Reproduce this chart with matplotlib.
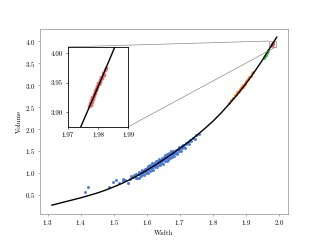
import matplotlib
matplotlib.use("Agg")
import matplotlib.pyplot as plt
from mpl_toolkits.axes_grid1.inset_locator import mark_inset

plt.rcParams['font.family'] = 'serif'
plt.rcParams['font.serif'] = ['cmr10']
plt.rcParams['mathtext.fontset'] = 'cm'
plt.rcParams['axes.formatter.use_mathtext'] = True

# fitted curve
curve_w = [1.313, 1.325, 1.35, 1.375, 1.40, 1.425, 1.45, 1.475, 1.50, 1.525, 1.55, 1.575, 1.60, 1.625,
           1.65, 1.675, 1.70, 1.725, 1.75, 1.775, 1.80, 1.825, 1.85, 1.875, 1.90, 1.925, 1.95, 1.97,
           1.98, 1.993]
curve_v = [0.264, 0.285, 0.335, 0.382, 0.43, 0.484, 0.54, 0.605, 0.68, 0.76, 0.85, 0.95, 1.06, 1.175,
           1.30, 1.425, 1.56, 1.70, 1.85, 2.01, 2.18, 2.37, 2.58, 2.80, 3.04, 3.30, 3.58, 3.825,
           3.943, 4.10]

blue_w = [1.414, 1.421, 1.487, 1.499, 1.508, 1.515, 1.527, 1.527, 1.534, 1.543, 1.549, 1.552, 1.557, 1.561,
          1.563, 1.566, 1.568, 1.571, 1.573, 1.575, 1.577, 1.579, 1.581, 1.583, 1.584, 1.586, 1.588, 1.590,
          1.591, 1.593, 1.595, 1.596, 1.598, 1.599,
          1.601, 1.602, 1.604, 1.605, 1.606, 1.608, 1.609, 1.611, 1.612, 1.613, 1.615, 1.616, 1.617, 1.619,
          1.620, 1.622, 1.623, 1.624, 1.626, 1.627, 1.628, 1.630, 1.631, 1.633, 1.634, 1.635, 1.637, 1.638,
          1.639, 1.640,
          1.641, 1.643, 1.644, 1.645, 1.647, 1.648, 1.649, 1.651, 1.652, 1.653, 1.655, 1.656, 1.657, 1.659,
          1.660, 1.661, 1.663, 1.664, 1.665, 1.667, 1.668, 1.669, 1.671, 1.672, 1.674, 1.675, 1.676, 1.678,
          1.679, 1.680,
          1.682, 1.684, 1.686, 1.688, 1.690, 1.692, 1.694, 1.696, 1.698, 1.700, 1.702, 1.705, 1.707, 1.710,
          1.712, 1.715, 1.718, 1.720,
          1.724, 1.727, 1.731, 1.735, 1.740, 1.745, 1.750, 1.757]
blue_v = [0.56, 0.67, 0.68, 0.79, 0.83, 0.76, 0.87, 0.81, 0.84, 0.77, 0.86, 0.92, 0.90, 0.95,
          0.94, 0.885, 0.98, 0.885, 0.965, 0.88, 1.01, 0.96, 1.01, 0.93, 1.065, 0.98, 1.05, 0.98,
          1.035, 0.95, 1.09, 1.015, 1.07, 1.005,
          1.02, 1.10, 1.00, 1.15, 1.07, 1.14, 1.04, 1.18, 1.11, 1.15, 1.07, 1.22, 1.12, 1.17,
          1.07, 1.23, 1.16, 1.21, 1.14, 1.27, 1.19, 1.25, 1.14, 1.28, 1.20, 1.26, 1.19, 1.32,
          1.24, 1.27,
          1.18, 1.29, 1.23, 1.34, 1.26, 1.30, 1.21, 1.36, 1.29, 1.35, 1.27, 1.40, 1.33, 1.37,
          1.28, 1.42, 1.34, 1.41, 1.30, 1.46, 1.37, 1.43, 1.35, 1.49, 1.41, 1.45, 1.36, 1.50,
          1.42, 1.46,
          1.38, 1.50, 1.445, 1.52, 1.45, 1.42, 1.54, 1.49, 1.58, 1.53, 1.49, 1.61, 1.565, 1.635,
          1.59, 1.57, 1.68, 1.65,
          1.70, 1.67, 1.75, 1.72, 1.80, 1.78, 1.86, 1.88]

orange_w = [1.848, 1.856, 1.862, 1.866, 1.869, 1.872, 1.874, 1.876, 1.878, 1.880, 1.882, 1.884, 1.886,
            1.888, 1.890, 1.892, 1.894, 1.896, 1.898, 1.901, 1.904, 1.907, 1.910, 1.914, 1.918, 1.922]
orange_v = [2.59, 2.66, 2.72, 2.77, 2.78, 2.82, 2.84, 2.84, 2.88, 2.87, 2.92, 2.93, 2.93,
            2.98, 2.97, 3.01, 3.01, 3.05, 3.04, 3.09, 3.12, 3.15, 3.18, 3.22, 3.27, 3.31]

green_w = [1.953, 1.955, 1.956, 1.958, 1.959, 1.960, 1.961, 1.962, 1.963, 1.964, 1.966, 1.968]
green_v = [3.62, 3.64, 3.66, 3.67, 3.70, 3.69, 3.72, 3.73, 3.75, 3.75, 3.78, 3.80]

red_w = [1.9771, 1.9774, 1.9776, 1.9778, 1.9779, 1.9781, 1.9783, 1.9785, 1.9787, 1.9789, 1.9790, 1.9792,
         1.9794, 1.9796, 1.9798, 1.9800, 1.9802, 1.9805, 1.9807, 1.9810, 1.9813, 1.9816, 1.9819, 1.9822, 1.9825]
red_v = [3.910, 3.915, 3.912, 3.921, 3.917, 3.925, 3.922, 3.930, 3.927, 3.936, 3.932, 3.940,
         3.937, 3.945, 3.942, 3.950, 3.947, 3.955, 3.952, 3.960, 3.958, 3.966, 3.963, 3.972, 3.975]

inset_xticks = [1.97, 1.98, 1.99]
inset_yticks = [3.90, 3.95, 4.00]

fig = plt.figure(figsize=(6.4, 4.8), dpi=50)
ax = fig.add_subplot(111)

def draw(a, s):
    a.scatter(blue_w, blue_v, s=s, color='#4a7bd9', linewidths=0, zorder=2)
    a.scatter(orange_w, orange_v, s=s, color='#f28a3c', linewidths=0, zorder=2)
    a.scatter(green_w, green_v, s=s, color='#4cbf4c', linewidths=0, zorder=2)
    a.scatter(red_w, red_v, s=s, color='#dd5555', linewidths=0, alpha=0.8, zorder=2)
    a.plot(curve_w, curve_v, color='black', lw=2.0, zorder=3)

draw(ax, 18)
ax.set_xlim(1.277, 2.027)
ax.set_ylim(0.07, 4.29)
ax.set_xticks([1.3, 1.4, 1.5, 1.6, 1.7, 1.8, 1.9, 2.0])
ax.set_yticks([0.5, 1.0, 1.5, 2.0, 2.5, 3.0, 3.5, 4.0])
ax.set_xlabel('Width')
ax.set_ylabel('Volume')
for s in ax.spines.values():
    s.set_color('0.45')
ax.tick_params(color='0.45')

axins = ax.inset_axes([0.113, 0.469, 0.242, 0.433])
draw(axins, 30)
axins.set_xlim(1.97, 1.99)
axins.set_ylim(3.875, 4.0107)
axins.set_xticks(inset_xticks)
axins.set_yticks(inset_yticks)
axins.set_xticklabels(['%.2f' % t for t in inset_xticks])
axins.set_yticklabels(['%.2f' % t for t in inset_yticks])
for s in axins.spines.values():
    s.set_color('black')
    s.set_linewidth(1.2)

mark_inset(ax, axins, loc1=2, loc2=4, fc='none', ec='0.5', lw=0.9)

fig.savefig('out.png', dpi=50)
